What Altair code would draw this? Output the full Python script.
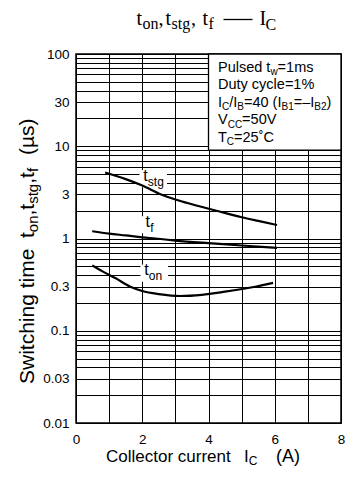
import altair as alt
import pandas as pd

# ---------------- data ----------------
stg_x = [0.88, 1.5, 2.0, 2.57, 3.0, 3.5, 4.24, 5.0, 5.5, 6.07]
stg_y = [5.2, 4.4, 3.75, 3.0, 2.65, 2.35, 2.0, 1.7, 1.55, 1.4]
f_x = [0.49, 1.0, 1.5, 2.0, 2.4, 3.0, 4.0, 5.0, 6.07]
f_y = [1.2, 1.13, 1.08, 1.03, 1.0, 0.95, 0.89, 0.84, 0.79]
on_x = [0.49, 0.8, 1.2, 1.64, 2.0, 2.5, 3.15, 3.8, 4.5, 5.41, 5.95]
on_y = [0.51, 0.44, 0.37, 0.30, 0.27, 0.25, 0.238, 0.245, 0.265, 0.30, 0.33]

series_names = ["stg", "f", "on"]
label_x = [2.03, 2.1, 2.06]
label_y = [4.24, 1.34, 0.40]

x_ticks = [0, 1, 2, 3, 4, 5, 6, 7, 8]
x_tick_labels = [0, 2, 4, 6, 8]
y_tick_labels = [0.01, 0.03, 0.1, 0.3, 1, 3, 10, 30, 100]

cond_lines = [
    [("Pulsed t", 0), ("w", 1), ("=1ms", 0)],
    [("Duty cycle=1%", 0)],
    [("I", 0), ("C", 1), ("/I", 0), ("B", 1), ("=40 (I", 0), ("B1", 1), ("=\u2013I", 0), ("B2", 1), (")", 0)],
    [("V", 0), ("CC", 1), ("=50V", 0)],
    [("T", 0), ("C", 1), ("=25\u02daC", 0)],
]

# ---------------- layout helpers ----------------
OX, OY = 76, 54  # plot-area origin on the page
PLOT_W, PLOT_H = 265, 369
SANS_W = {' ': 278, '(': 333, ')': 333, ',': 278, '/': 278, '=': 584, '%': 889, '\u2013': 556,
          '\u02da': 333, '\u00b5': 556, '0': 556, '1': 556, '2': 556, '3': 556, '4': 556, '5': 556,
          'A': 667, 'B': 667, 'C': 722, 'D': 722, 'I': 278, 'P': 667, 'S': 667, 'T': 611, 'V': 667,
          'a': 556, 'c': 500, 'd': 556, 'e': 556, 'f': 278, 'g': 556, 'h': 556, 'i': 222, 'l': 222,
          'm': 833, 'n': 556, 'o': 556, 'r': 333, 's': 500, 't': 278, 'u': 556, 'w': 722, 'y': 500}


def width(s, size):
    return sum(SANS_W.get(c, 556) for c in s) / 1000 * size


def run(segs, x, y, size, sub_size, shift, vertical=False):
    rows, pos = [], 0.0
    for txt, sub in segs:
        fs = sub_size if sub else size
        if vertical:
            rows.append(dict(px=x + (shift if sub else 0) - OX, py=y - pos - OY, fs=fs, txt=txt))
        else:
            rows.append(dict(px=x + pos - OX, py=y + (shift if sub else 0) - OY, fs=fs, txt=txt))
        pos += width(txt, fs)
    return rows


# ---------------- scales / axes ----------------
y_grid = [round(m * 10 ** e, 6) for e in range(-2, 2) for m in range(1, 10)] + [100]
lab_list = "[" + ",".join(str(v) for v in y_tick_labels) + "]"
xlab_list = "[" + ",".join(str(v) for v in x_tick_labels) + "]"

xaxis = alt.Axis(values=x_ticks, labelExpr=f"indexof({xlab_list}, datum.value) >= 0 ? datum.value + '' : ''",
                 grid=True, ticks=False, domain=False, title=None, labelFont="Liberation Sans",
                 labelFontSize=13.5, labelColor="black", gridColor="black", gridOpacity=1, gridWidth=1,
                 labelPadding=9, labelFlush=False, labelOverlap=False)
yaxis = alt.Axis(values=y_grid, labelExpr=f"indexof({lab_list}, datum.value) >= 0 ? datum.value + '' : ''",
                 grid=True, ticks=False, domain=False, title=None, labelFont="Liberation Sans",
                 labelFontSize=13.5, labelColor="black", gridColor="black", gridOpacity=1, gridWidth=1,
                 labelPadding=7, labelFlush=False, labelOverlap=False)
xs = alt.Scale(domain=[0, 8], nice=False)
ys = alt.Scale(type="log", domain=[0.01, 100], nice=False)

X = alt.X("x:Q", scale=xs, axis=xaxis)
Y = alt.Y("y:Q", scale=ys, axis=yaxis)

curves = pd.concat([
    pd.DataFrame({"x": stg_x, "y": stg_y, "series": "stg"}),
    pd.DataFrame({"x": f_x, "y": f_y, "series": "f"}),
    pd.DataFrame({"x": on_x, "y": on_y, "series": "on"}),
])
labels = pd.DataFrame({"x": label_x, "y": label_y, "sub": series_names, "main": "t"})

box_shape = "M-1,-0.62L1,-0.62L1,0.62L-1,0.62Z"
label_bg = alt.Chart(labels).mark_point(shape=box_shape, filled=True, color="white", opacity=1,
                                        size=760, xOffset=10, yOffset=-2, strokeWidth=0).encode(x=X, y=Y)

cond_box = alt.Chart(pd.DataFrame({"k": [0]})).mark_rect(fill="white", stroke="black", strokeWidth=1.3).encode(
    x=alt.datum(4, scale=xs, axis=xaxis), x2=alt.datum(8), y=alt.datum(9.1, scale=ys, axis=yaxis), y2=alt.datum(100))

lines = alt.Chart(curves).mark_line(color="black", strokeWidth=2.2, interpolate="monotone").encode(
    x=X, y=Y, detail="series:N")

lab_main = alt.Chart(labels).mark_text(align="left", baseline="alphabetic", font="Liberation Sans",
                                       fontSize=16, color="black").encode(x=X, y=Y, text="main:N")
lab_sub = alt.Chart(labels).mark_text(align="left", baseline="alphabetic", font="Liberation Sans",
                                      fontSize=12, color="black", dx=4.6, dy=5).encode(x=X, y=Y, text="sub:N")

# ---------------- free text (pixel placed) ----------------
sans_rows = []
for i, segs in enumerate(cond_lines):
    sans_rows += run(segs, 218, 71.5 + i * 17.6, 14.5, 10, 3.5)
sans_rows += run([("Collector current", 0)], 106, 461.5, 17, 12, 3)
sans_rows += run([("I", 0), ("C", 1)], 244, 461.5, 17, 12, 3)
sans_rows += run([("(A)", 0)], 276, 461.5, 18, 12, 3)

vert_rows = []
vert_rows += run([("Switching time", 0)], 34, 384, 21, 15, 4, vertical=True)
vert_rows += run([("t", 0), ("on", 1), (",", 0), ("t", 0), ("stg", 1), (",", 0), ("t", 0), ("f", 1)],
                 34, 238, 21, 15, 4, vertical=True)
vert_rows += run([("(\u00b5s)", 0)], 34, 155, 21, 15, 4, vertical=True)

title_rows = [
    dict(px=136.5 - OX, py=25 - OY, fs=20, txt="t"),
    dict(px=142.5 - OX, py=28.5 - OY, fs=16, txt="on"),
    dict(px=158.5 - OX, py=25 - OY, fs=20, txt=","),
    dict(px=165.5 - OX, py=25 - OY, fs=20, txt="t"),
    dict(px=171.5 - OX, py=28.5 - OY, fs=16, txt="stg"),
    dict(px=191.0 - OX, py=25 - OY, fs=20, txt=","),
    dict(px=202.5 - OX, py=25 - OY, fs=20, txt="t"),
    dict(px=208.5 - OX, py=28.5 - OY, fs=16, txt="f"),
    dict(px=259.5 - OX, py=25 - OY, fs=20, txt="I"),
    dict(px=265.5 - OX, py=30 - OY, fs=16, txt="C"),
]

PX = alt.X("px:Q", scale=None)
PY = alt.Y("py:Q", scale=None)
FS = alt.Size("fs:Q", scale=None, legend=None)

sans_text = alt.Chart(pd.DataFrame(sans_rows)).mark_text(
    align="left", baseline="alphabetic", font="Liberation Sans", color="black").encode(
    x=PX, y=PY, size=FS, text="txt:N")
vert_text = alt.Chart(pd.DataFrame(vert_rows)).mark_text(
    align="left", baseline="alphabetic", font="Liberation Sans", color="black", angle=270).encode(
    x=PX, y=PY, size=FS, text="txt:N")
title_text = alt.Chart(pd.DataFrame(title_rows)).mark_text(
    align="left", baseline="alphabetic", font="Liberation Serif", color="black").encode(
    x=PX, y=PY, size=FS, text="txt:N")
title_dash = alt.Chart(pd.DataFrame({"k": [0]})).mark_rule(color="black", strokeWidth=1.3).encode(
    x=alt.value(223.5 - OX), x2=alt.value(252.5 - OX), y=alt.value(19.5 - OY))

chart = alt.layer(
    label_bg, cond_box, lines, lab_main, lab_sub, sans_text, vert_text, title_text, title_dash
).properties(
    width=PLOT_W, height=PLOT_H,
    autosize=alt.AutoSizeParams(type="none"),
    padding={"left": 68, "top": 46, "right": 4, "bottom": 46},
).configure_view(stroke="black", strokeWidth=1.5)

chart.save("out.html", embed_options={"renderer": "svg", "actions": False})
